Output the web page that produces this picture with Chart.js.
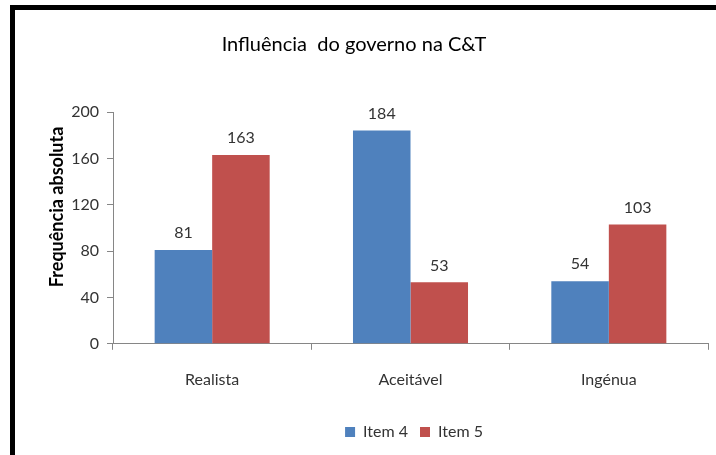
<!DOCTYPE html>
<html>
<head>
<meta charset="utf-8">
<script src="https://cdn.jsdelivr.net/npm/chart.js@4"></script>
<style>
  html, body { margin: 0; padding: 0; background: #fff; }
  #wrap { position: relative; width: 716px; height: 455px; overflow: hidden; }
  #frame {
    position: absolute; left: 10px; top: 5px; width: 800px; height: 600px;
    border-top: 5px solid #000; border-left: 5px solid #000;
  }
  canvas { position: absolute; left: 0; top: 0; }
</style>
</head>
<body>
<div id="wrap">
  <div id="frame"></div>
  <canvas id="chart" width="716" height="455"></canvas>
</div>
<script>
const categories = ['Realista', 'Aceitável', 'Ingénua'];
const item4 = [81, 184, 54];
const item5 = [163, 53, 103];
const yTicks = [0, 40, 80, 120, 160, 200];
const yTitle = 'Frequência absoluta';

const fontFamily = 'Lato, "Noto Sans", sans-serif';

// value labels above each bar
const barLabels = {
    id: 'barLabels',
    afterDatasetsDraw(chart) {
        const ctx = chart.ctx;
        ctx.save();
        ctx.font = '16px ' + fontFamily;
        ctx.fillStyle = '#333';
        ctx.textAlign = 'center';
        ctx.textBaseline = 'bottom';
        chart.data.datasets.forEach((ds, i) => {
            chart.getDatasetMeta(i).data.forEach((bar, j) => {
                ctx.fillText(ds.data[j], bar.x, bar.y - 9);
            });
        });
        ctx.restore();
    },
};

// y title sits a little above the middle of the axis in the original
const yAxisTitle = {
    id: 'yAxisTitle',
    afterDraw(chart) {
        const y = chart.scales.y;
        const ctx = chart.ctx;
        ctx.save();
        ctx.translate(y.left + 57, (y.top + y.bottom) / 2 - 21);
        ctx.rotate(-Math.PI / 2);
        ctx.font = 'bold 18px ' + fontFamily;
        ctx.fillStyle = '#000';
        ctx.textAlign = 'center';
        ctx.textBaseline = 'middle';
        ctx.fillText(yTitle, 0, 0);
        ctx.restore();
    },
};

// legend sits a bit right of centre in the original
const legendShift = {
    id: 'legendShift',
    afterLayout(chart) {
        chart.legend.left += 60;
        chart.legend.right += 60;
    },
};

new Chart(document.getElementById('chart'), {
    type: 'bar',
    data: {
        labels: categories,
        datasets: [{
            label: 'Item 4',
            data: item4,
            backgroundColor: '#4F81BD',
        }, {
            label: 'Item 5',
            data: item5,
            backgroundColor: '#C0504D',
        }],
    },
    options: {
        responsive: false,
        animation: false,
        devicePixelRatio: 1,
        layout: { padding: { left: 0, right: 8, top: 0, bottom: 5 } },
        datasets: { bar: { categoryPercentage: 0.58, barPercentage: 1 } },
        plugins: {
            title: {
                display: true,
                text: 'Influência  do governo na C&T',
                color: '#000',
                font: { family: fontFamily, size: 20, weight: 'normal' },
                padding: { top: 33, bottom: 55 },
            },
            legend: {
                position: 'bottom',
                labels: {
                    boxWidth: 10,
                    boxHeight: 10,
                    color: '#333',
                    font: { family: fontFamily, size: 16 },
                    padding: 12,
                },
            },
            tooltip: { enabled: false },
        },
        scales: {
            x: {
                afterFit(scale) { scale.height += 3; },
                grid: {
                    display: true,
                    drawOnChartArea: false,
                    color: '#868686',
                    tickLength: 6,
                },
                border: { color: '#868686' },
                ticks: {
                    color: '#333',
                    font: { family: fontFamily, size: 16 },
                    padding: 20,
                },
            },
            y: {
                min: 0,
                max: 200,
                afterBuildTicks(scale) {
                    scale.ticks = yTicks.map((v) => ({ value: v }));
                },
                afterFit(scale) { scale.width = 113; },
                grid: {
                    display: true,
                    drawOnChartArea: false,
                    color: '#868686',
                    tickLength: 6,
                },
                border: { color: '#868686' },
                ticks: {
                    color: '#333',
                    font: { family: fontFamily, size: 16 },
                    padding: 8,
                },
            },
        },
    },
    plugins: [barLabels, yAxisTitle, legendShift],
});
</script>
</body>
</html>
